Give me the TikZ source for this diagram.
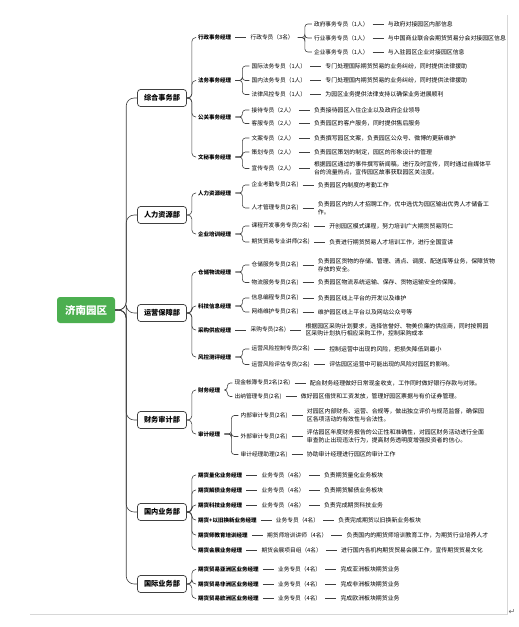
\documentclass[tikz,border=0pt]{standalone}
\usepackage{fontspec}
\newfontfamily\cjk{Noto Sans CJK SC}
\newfontfamily\symfont{DejaVu Sans}
\usetikzlibrary{positioning, calc}
\definecolor{rootgreen}{RGB}{76,175,80}
\definecolor{linegray}{RGB}{64,64,64}
\definecolor{pagegray}{RGB}{215,215,215}

\tikzset{
  conn/.style={draw=linegray, line width=0.6pt},
  link/.style={conn, shorten <=2pt, shorten >=2pt},
  rootbox/.style={rectangle, rounded corners=3pt, fill=rootgreen, text=white,
    font=\cjk\bfseries\fontsize{10.5}{12}\selectfont, minimum width=58pt, minimum height=26pt},
  deptbox/.style={rectangle, rounded corners=3pt, draw=linegray, line width=0.7pt, fill=white,
    font=\cjk\bfseries\fontsize{7.2}{8}\selectfont, minimum width=49pt, minimum height=17pt, inner sep=1pt},
  mgr/.style={anchor=west, inner sep=2pt, font=\cjk\bfseries\fontsize{5.5}{7}\selectfont},
  staff/.style={anchor=west, inner sep=2pt, font=\cjk\fontsize{5.7}{7}\selectfont},
  duty/.style={anchor=west, inner sep=2pt, align=left, font=\cjk\fontsize{5.9}{7.6}\selectfont},
}

\begin{document}
\begin{tikzpicture}[x=1pt, y=-1pt, node distance=15pt]
  \useasboundingbox (0,0) rectangle (519,627);
  % Seitenrand
  \draw[pagegray, line width=0.5pt] (507,15) -- (507,614) -- (30,614);
  \node[text=gray!80!black, font=\symfont\fontsize{8}{9}\selectfont] (pilcrow) at (512,612) {↵};

  % Wurzel
  \node[rootbox] (yuanqu) at (86,310) {济南园区};

  % 综合事务部
  \node[deptbox] (zonghe) at (162,98) {综合事务部};
  \node[mgr] (xingzheng) at (196,37.5) {行政事务经理};
  \node[mgr] (fawu) at (196,80.5) {法务事务经理};
  \node[mgr] (gongguan) at (196,117) {公关事务经理};
  \node[mgr] (wenmi) at (196,157) {文秘事务经理};

  \node[staff, right=of xingzheng] (xzzy) {行政专员（3名）};
  \node[staff] (zhengfu) at ($(xzzy.east |- 0,24)+(16pt,0)$) {政府事务专员（1人）};
  \node[staff] (hangye) at ($(xzzy.east |- 0,38)+(16pt,0)$) {行业事务专员（1人）};
  \node[staff] (qiye) at ($(xzzy.east |- 0,52)+(16pt,0)$) {企业事务专员（1人）};
  \node[duty, right=of zhengfu] (zhengfud) {与政府对接园区内部信息};
  \node[duty, right=of hangye] (hangyed) {与中国商业联合会期货贸易分会对接园区信息};
  \node[duty, right=of qiye] (qiyed) {与入驻园区企业对接园区信息};

  \node[staff] (guojifw) at ($(fawu.east |- 0,66)+(16pt,0)$) {国际法务专员（1人）};
  \node[staff] (guoneifw) at ($(fawu.east |- 0,80.5)+(16pt,0)$) {国内法务专员（1人）};
  \node[staff] (fengkongfw) at ($(fawu.east |- 0,94.5)+(16pt,0)$) {法律风控专员（1人）};
  \node[duty, right=of guojifw] (guojifwd) {专门处理国际期货贸易的业务纠纷，同时提供法律援助};
  \node[duty, right=of guoneifw] (guoneifwd) {专门处理国内期货贸易的业务纠纷，同时提供法律援助};
  \node[duty, right=of fengkongfw] (fengkongfwd) {为园区业务提供法律支持以确保业务进展顺利};

  \node[staff] (jiedai) at ($(gongguan.east |- 0,110)+(16pt,0)$) {接待专员（2人）};
  \node[staff] (kefu) at ($(gongguan.east |- 0,123.5)+(16pt,0)$) {客服专员（2人）};
  \node[duty, right=of jiedai] (jiedaid) {负责接待园区入住企业以及政府企业领导};
  \node[duty, right=of kefu] (kefud) {负责园区的客户服务，同时提供售后服务};

  \node[staff] (wenan) at ($(wenmi.east |- 0,138)+(16pt,0)$) {文案专员（2人）};
  \node[staff] (cehua) at ($(wenmi.east |- 0,152)+(16pt,0)$) {策划专员（2人）};
  \node[staff] (xuanchuan) at ($(wenmi.east |- 0,168.5)+(16pt,0)$) {宣传专员（2人）};
  \node[duty, right=of wenan] (wenand) {负责撰写园区文案，负责园区公众号、微博的更新维护};
  \node[duty, right=of cehua] (cehuad) {负责园区策划的制定，园区的形象设计的管理};
  \node[duty, right=of xuanchuan] (xuanchuand) {根据园区通过的事件撰写新闻稿，进行及时宣传，同时通过自媒体平\\台的流量热点，宣传园区故事获取园区关注度。};

  \foreach \m in {xingzheng,fawu,gongguan,wenmi}
    \draw[conn, rounded corners=4pt] (zonghe.east) -- ++(5pt,0) |- (\m.west);
  \draw[link] (xingzheng) -- (xzzy);
  \foreach \c in {zhengfu,hangye,qiye}
    \draw[conn, rounded corners=3pt, shorten <=2pt] (xzzy.east) -- ++(9pt,0) |- (\c.west);
  \foreach \c in {guojifw,guoneifw,fengkongfw}
    \draw[conn, rounded corners=3pt, shorten <=2pt] (fawu.east) -- ++(9pt,0) |- (\c.west);
  \foreach \c in {jiedai,kefu}
    \draw[conn, rounded corners=3pt, shorten <=2pt] (gongguan.east) -- ++(9pt,0) |- (\c.west);
  \foreach \c in {wenan,cehua,xuanchuan}
    \draw[conn, rounded corners=3pt, shorten <=2pt] (wenmi.east) -- ++(9pt,0) |- (\c.west);
  \foreach \a/\b in {zhengfu/zhengfud,hangye/hangyed,qiye/qiyed,guojifw/guojifwd,guoneifw/guoneifwd,
      fengkongfw/fengkongfwd,jiedai/jiedaid,kefu/kefud,wenan/wenand,cehua/cehuad,xuanchuan/xuanchuand}
    \draw[link] (\a.east) -- (\b.west);

  % 人力资源部
  \node[deptbox] (renli) at (162,215) {人力资源部};
  \node[mgr] (rlzy) at (196,193) {人力资源经理};
  \node[mgr] (qypx) at (196,234) {企业培训经理};

  \node[staff] (kaoqin) at ($(rlzy.east |- 0,185)+(16pt,0)$) {企业考勤专员(2名)};
  \node[staff] (rencai) at ($(rlzy.east |- 0,208)+(16pt,0)$) {人才管理专员(2名)};
  \node[duty, right=of kaoqin] (kaoqind) {负责园区内制度的考勤工作};
  \node[duty, right=of rencai] (rencaid) {负责园区内的人才招聘工作，优中选优为园区输出优秀人才储备工\\作。};
  \node[staff] (kecheng) at ($(qypx.east |- 0,226)+(16pt,0)$) {课程开发事务专员(2名)};
  \node[staff] (jiangshi) at ($(qypx.east |- 0,242)+(16pt,0)$) {期货贸易专业讲师(2名)};
  \node[duty, right=of kecheng] (kechengd) {开创园区模式课程，努力培训广大期货贸易同仁};
  \node[duty, right=of jiangshi] (jiangshid) {负责进行期货贸易人才培训工作，进行全国宣讲};

  \foreach \m in {rlzy,qypx}
    \draw[conn, rounded corners=4pt] (renli.east) -- ++(5pt,0) |- (\m.west);
  \foreach \c in {kaoqin,rencai}
    \draw[conn, rounded corners=3pt, shorten <=2pt] (rlzy.east) -- ++(9pt,0) |- (\c.west);
  \foreach \c in {kecheng,jiangshi}
    \draw[conn, rounded corners=3pt, shorten <=2pt] (qypx.east) -- ++(9pt,0) |- (\c.west);
  \foreach \a/\b in {kaoqin/kaoqind,rencai/rencaid,kecheng/kechengd,jiangshi/jiangshid}
    \draw[link] (\a.east) -- (\b.west);

  % 运营保障部
  \node[deptbox] (yunying) at (162,313) {运营保障部};
  \node[mgr] (ccwl) at (196,272) {仓储物流经理};
  \node[mgr] (kjxx) at (196,306) {科技信息经理};
  \node[mgr] (cggy) at (196,330) {采购供应经理};
  \node[mgr] (fkcp) at (196,357) {风控测评经理};

  \node[staff] (cangchu) at ($(ccwl.east |- 0,265)+(16pt,0)$) {仓储服务专员(2名)};
  \node[staff] (wuliu) at ($(ccwl.east |- 0,282.5)+(16pt,0)$) {物流服务专员(2名)};
  \node[duty, right=of cangchu] (cangchud) {负责园区货物的存储、管理、清点、调度、配送库等业务，保障货物\\存放的安全。};
  \node[duty, right=of wuliu] (wuliud) {负责园区物流系统运输、保存、货物运输安全的保障。};
  \node[staff] (biancheng) at ($(kjxx.east |- 0,298)+(16pt,0)$) {信息编程专员(2名)};
  \node[staff] (weihu) at ($(kjxx.east |- 0,312)+(16pt,0)$) {网络维护专员(2名)};
  \node[duty, right=of biancheng] (bianchengd) {负责园区线上平台的开发以及维护};
  \node[duty, right=of weihu] (weihud) {维护园区线上平台以及网站公众号等};
  \node[staff, right=of cggy] (caigou) {采购专员(2名)};
  \node[duty, right=of caigou] (caigoud) {根据园区采购计划要求，选择信誉好、物美价廉的供应商，同时按照园\\区采购计划执行相应采购工作，控制采购成本};
  \node[staff] (kongzhi) at ($(fkcp.east |- 0,349)+(16pt,0)$) {运营风险控制专员(2名)};
  \node[staff] (pinggu) at ($(fkcp.east |- 0,364.5)+(16pt,0)$) {运营风险评估专员(2名)};
  \node[duty, right=of kongzhi] (kongzhid) {控制运营中出现的风险，把损失降低到最小};
  \node[duty, right=of pinggu] (pinggud) {评估园区运营中可能出现的风险对园区的影响。};

  \foreach \m in {ccwl,kjxx,cggy,fkcp}
    \draw[conn, rounded corners=4pt] (yunying.east) -- ++(5pt,0) |- (\m.west);
  \foreach \c in {cangchu,wuliu}
    \draw[conn, rounded corners=3pt, shorten <=2pt] (ccwl.east) -- ++(9pt,0) |- (\c.west);
  \foreach \c in {biancheng,weihu}
    \draw[conn, rounded corners=3pt, shorten <=2pt] (kjxx.east) -- ++(9pt,0) |- (\c.west);
  \foreach \c in {kongzhi,pinggu}
    \draw[conn, rounded corners=3pt, shorten <=2pt] (fkcp.east) -- ++(9pt,0) |- (\c.west);
  \draw[link] (cggy) -- (caigou);
  \foreach \a/\b in {cangchu/cangchud,wuliu/wuliud,biancheng/bianchengd,weihu/weihud,
      caigou/caigoud,kongzhi/kongzhid,pinggu/pinggud}
    \draw[link] (\a.east) -- (\b.west);

  % 财务审计部
  \node[deptbox] (caiwu) at (162,420) {财务审计部};
  \node[mgr] (cwjl) at (196,390) {财务经理};
  \node[mgr] (sjjl) at (196,434) {审计经理};

  \node[staff] (xianjin) at ($(cwjl.east |- 0,383)+(10pt,0)$) {现金帐簿专员2名(2名)};
  \node[staff] (chuna) at ($(cwjl.east |- 0,396.5)+(10pt,0)$) {出纳管理专员(2名)};
  \node[duty, right=of xianjin] (xianjind) {配合财务经理做好日常现金收支，工作同时做好银行存款与对账。};
  \node[duty, right=of chuna] (chunad) {做好园区借贷和工资发放，管理好园区票据与有价证券管理。};
  \node[staff] (neibu) at ($(sjjl.east |- 0,415.5)+(16pt,0)$) {内部审计专员(2名)};
  \node[staff] (waibu) at ($(sjjl.east |- 0,436.5)+(16pt,0)$) {外部审计专员(2名)};
  \node[staff] (zhuli) at ($(sjjl.east |- 0,454.5)+(16pt,0)$) {审计经理助理(2名)};
  \node[duty, right=of neibu] (neibud) {对园区内部财务、运营、合规等，做出独立评价与规范监督，确保园\\区各项活动的有效性与合法性。};
  \node[duty, right=of waibu] (waibud) {评估园区年度财务报告的公正性和准确性，对园区财务活动进行全面\\审查防止出现违法行为，提高财务透明度增强投资者的信心。};
  \node[duty, right=of zhuli] (zhulid) {协助审计经理进行园区的审计工作};

  \foreach \m in {cwjl,sjjl}
    \draw[conn, rounded corners=4pt] (caiwu.east) -- ++(5pt,0) |- (\m.west);
  \foreach \c in {xianjin,chuna}
    \draw[conn, rounded corners=3pt, shorten <=2pt] (cwjl.east) -- ++(5pt,0) |- (\c.west);
  \foreach \c in {neibu,waibu,zhuli}
    \draw[conn, rounded corners=3pt, shorten <=2pt] (sjjl.east) -- ++(9pt,0) |- (\c.west);
  \foreach \a/\b in {xianjin/xianjind,chuna/chunad,neibu/neibud,waibu/waibud,zhuli/zhulid}
    \draw[link] (\a.east) -- (\b.west);

  % 国内业务部
  \node[deptbox] (guonei) at (162,512) {国内业务部};
  \node[mgr] (gn1) at (196,475) {期货量化业务经理};
  \node[mgr] (gn2) at (196,490) {期货解债业务经理};
  \node[mgr] (gn3) at (196,505) {期货科技业务经理};
  \node[mgr] (gn4) at (196,520) {期货+以旧换新业务经理};
  \node[mgr] (gn5) at (196,535) {期货师教育培训经理};
  \node[mgr] (gn6) at (196,550) {期货会展业务经理};
  \node[staff, right=of gn1] (gz1) {业务专员（4名）};
  \node[staff, right=of gn2] (gz2) {业务专员（4名）};
  \node[staff, right=of gn3] (gz3) {业务专员（4名）};
  \node[staff, right=of gn4] (gz4) {业务专员（4名）};
  \node[staff, right=of gn5] (gz5) {期货师培训讲师（4名）};
  \node[staff, right=of gn6] (gz6) {期货会展项目组（4名）};
  \node[duty, right=of gz1] (gd1) {负责期货量化业务板块};
  \node[duty, right=of gz2] (gd2) {负责期货解债业务板块};
  \node[duty, right=of gz3] (gd3) {负责完成期货科技业务};
  \node[duty, right=of gz4] (gd4) {负责完成期货以旧换新业务板块};
  \node[duty, right=of gz5] (gd5) {负责国内的期货师培训教育工作，为期货行业培养人才};
  \node[duty, right=of gz6] (gd6) {进行国内各机构期货贸易会展工作，宣传期货贸易文化};
  \foreach \i in {1,...,6} {
    \draw[conn, rounded corners=4pt] (guonei.east) -- ++(5pt,0) |- (gn\i.west);
    \draw[link] (gn\i) -- (gz\i);
    \draw[link] (gz\i) -- (gd\i);
  }

  % 国际业务部
  \node[deptbox] (guoji) at (162,584) {国际业务部};
  \node[mgr] (gj1) at (196,569.5) {期货贸易亚洲区业务经理};
  \node[mgr] (gj2) at (196,584) {期货贸易非洲区业务经理};
  \node[mgr] (gj3) at (196,598.5) {期货贸易欧洲区业务经理};
  \node[staff, right=of gj1] (jz1) {业务专员（4名）};
  \node[staff, right=of gj2] (jz2) {业务专员（4名）};
  \node[staff, right=of gj3] (jz3) {业务专员（4名）};
  \node[duty, right=of jz1] (jd1) {完成亚洲板块期货业务};
  \node[duty, right=of jz2] (jd2) {完成非洲板块期货业务};
  \node[duty, right=of jz3] (jd3) {完成欧洲板块期货业务};
  \foreach \i in {1,2,3} {
    \draw[conn, rounded corners=4pt] (guoji.east) -- ++(5pt,0) |- (gj\i.west);
    \draw[link] (gj\i) -- (jz\i);
    \draw[link] (jz\i) -- (jd\i);
  }

  % Wurzel zu Abteilungen
  \foreach \d in {zonghe,renli,yunying,caiwu,guonei,guoji}
    \draw[conn, rounded corners=8pt] (yuanqu.east) -- ++(11pt,0) |- (\d.west);
\end{tikzpicture}
\end{document}
